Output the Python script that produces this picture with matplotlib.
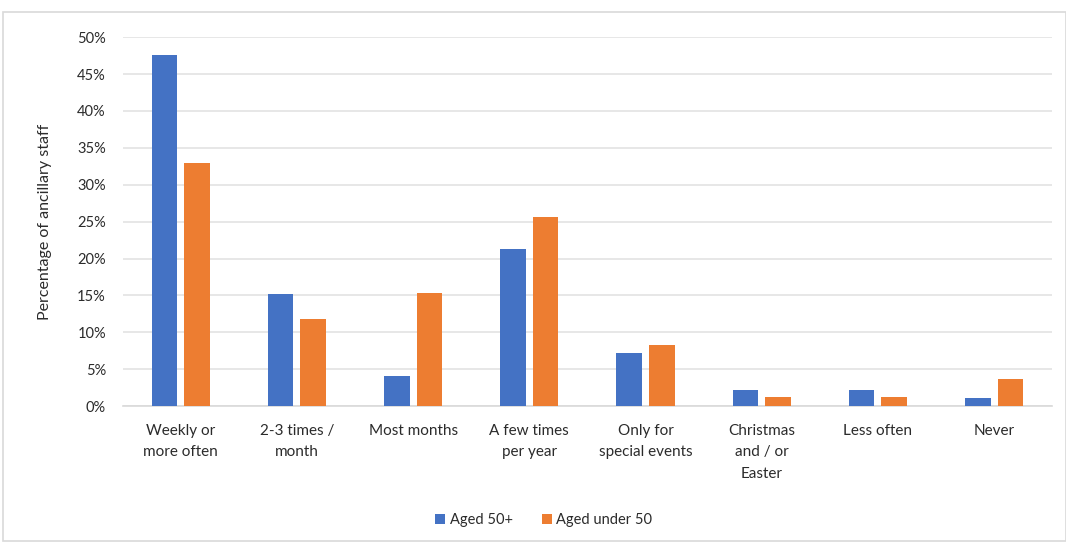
import numpy as np
import matplotlib.pyplot as plt
from matplotlib.patches import Rectangle

plt.rcParams['font.family'] = ['Lato', 'DejaVu Sans']

categories = ["Weekly or\nmore often", "2-3 times /\nmonth", "Most months",
              "A few times\nper year", "Only for\nspecial events",
              "Christmas\nand / or\nEaster", "Less often", "Never"]
aged_50_plus = [47.6, 15.2, 4.1, 21.3, 7.2, 2.2, 2.2, 1.1]
aged_under_50 = [32.9, 11.8, 15.3, 25.7, 8.3, 1.2, 1.2, 3.7]
yticks = np.arange(0, 51, 5)

blue = "#4472c4"
orange = "#ed7d31"
text_col = "#2b2b2b"

fig = plt.figure(figsize=(10.66, 5.46), dpi=100)
ax = fig.add_axes([0.115, 0.256, 0.872, 0.676])

# thin grey frame round the chart
fig.patches.append(Rectangle((0.003, 0.01), 0.997, 0.968, transform=fig.transFigure,
                             fill=False, edgecolor="#d9d9d9", linewidth=1.2))

x = np.arange(len(categories))
w = 0.22
ax.bar(x - 0.14, aged_50_plus, w, color=blue, label="Aged 50+", zorder=3)
ax.bar(x + 0.14, aged_under_50, w, color=orange, label="Aged under 50", zorder=3)

ax.set_xlim(-0.5, len(categories) - 0.5)
ax.set_ylim(0, 50)
ax.set_yticks(yticks)
ax.set_yticklabels([f"{v}%" for v in yticks], fontsize=10.5, color=text_col)
ax.set_xticks(x)
ax.set_xticklabels(categories, fontsize=11, color=text_col, va="top", linespacing=1.65)
ax.tick_params(axis="both", length=0)
ax.tick_params(axis="x", pad=13)
ax.tick_params(axis="y", pad=12)

ax.grid(axis="y", color="#e3e3e3", linewidth=1.2, zorder=0)
for s in ["top", "right", "left"]:
    ax.spines[s].set_visible(False)
ax.spines["bottom"].set_color("#d9d9d9")
ax.spines["bottom"].set_linewidth(1.2)

ax.set_ylabel("Percentage of ancillary staff", fontsize=11.5, color=text_col, labelpad=18)

fig.legend(loc="lower center", bbox_to_anchor=(0.51, 0.01), ncol=2, frameon=False,
           fontsize=10.5, handlelength=0.7, handleheight=0.7, columnspacing=2.0,
           handletextpad=0.3, labelcolor=text_col)

fig.savefig("out.png", dpi=100)
